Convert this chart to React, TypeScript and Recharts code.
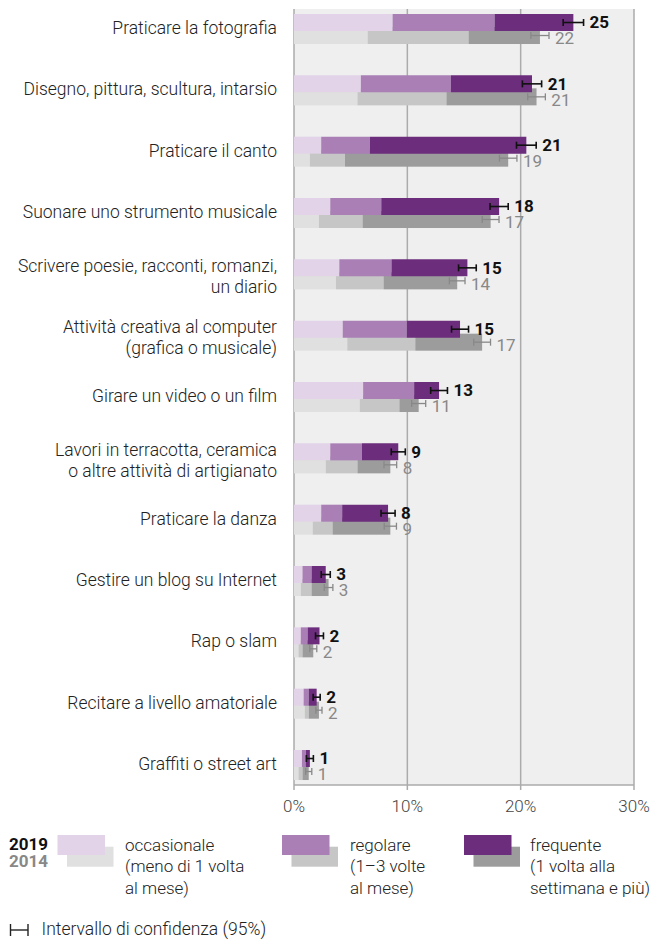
import React from "react";
import {
  BarChart,
  Bar,
  XAxis,
  YAxis,
  CartesianGrid,
  LabelList,
} from "recharts";

const categories = [
  "Praticare la fotografia",
  "Disegno, pittura, scultura, intarsio",
  "Praticare il canto",
  "Suonare uno strumento musicale",
  "Scrivere poesie, racconti, romanzi,\nun diario",
  "Attività creativa al computer\n(grafica o musicale)",
  "Girare un video o un film",
  "Lavori in terracotta, ceramica\no altre attività di artigianato",
  "Praticare la danza",
  "Gestire un blog su Internet",
  "Rap o slam",
  "Recitare a livello amatoriale",
  "Graffiti o street art",
];

// 2019
const occ2019 = [8.7, 5.9, 2.4, 3.2, 4.0, 4.3, 6.1, 3.2, 2.4, 0.75, 0.6, 0.85, 0.7];
const reg2019 = [9.0, 7.95, 4.3, 4.5, 4.6, 5.65, 4.5, 2.8, 1.85, 0.8, 0.6, 0.45, 0.35];
const fre2019 = [6.95, 7.15, 13.8, 10.4, 6.7, 4.7, 2.2, 3.2, 4.05, 1.25, 1.05, 0.7, 0.35];
const err2019 = [0.9, 0.85, 0.87, 0.8, 0.78, 0.75, 0.74, 0.62, 0.62, 0.4, 0.35, 0.31, 0.31];
const tot2019 = [25, 21, 21, 18, 15, 15, 13, 9, 8, 3, 2, 2, 1];

// 2014
const occ2014 = [6.5, 5.6, 1.4, 2.2, 3.7, 4.7, 5.8, 2.8, 1.65, 0.6, 0.4, 0.95, 0.4];
const reg2014 = [8.9, 7.85, 3.1, 3.85, 4.2, 6.0, 3.5, 2.8, 1.75, 0.95, 0.35, 0.35, 0.35];
const fre2014 = [6.3, 7.95, 14.4, 11.3, 6.5, 5.9, 1.7, 2.9, 5.1, 1.5, 0.95, 0.9, 0.55];
const err2014 = [0.8, 0.78, 0.77, 0.74, 0.69, 0.74, 0.62, 0.56, 0.54, 0.38, 0.31, 0.27, 0.27];
const tot2014 = [22, 21, 19, 17, 14, 17, 11, 8, 9, 3, 2, 2, 1];

const xTicks = [0, 10, 20, 30];

const C19 = ["#e2d3e8", "#a97fb5", "#6b2d7c"];
const C14 = ["#dfe0df", "#c5c6c5", "#9c9c9c"];
const GRID = "#ababab";
const FONT = "Roboto, 'Noto Sans', sans-serif";
const FS = 17.5;
const SHIFT = 13; // 2014 bar sits a bit lower, behind 2019

const data = categories.map((name, i) => ({
  idx: i,
  name,
  occ19: occ2019[i],
  reg19: reg2019[i],
  fre19: fre2019[i],
  occ14: occ2014[i],
  reg14: reg2014[i],
  fre14: fre2014[i],
}));

const shiftedBar = (props: any) => {
  const { x, y, width, height, fill } = props;
  if (width == null || height == null) return null;
  return <rect x={x} y={y + SHIFT} width={width} height={height} fill={fill} />;
};

function makeErrLabel(
  fre: number[],
  err: number[],
  totals: number[],
  is19: boolean
) {
  return (props: any) => {
    const vb = props.viewBox && props.viewBox.width != null ? props.viewBox : props;
    const { x, y, width, height } = vb;
    const i = props.value as number;
    if (x == null || i == null) return null;
    const yOff = is19 ? 0 : SHIFT;
    const cy = y + height / 2 + yOff;
    const end = x + width;
    const px = (width / fre[i]) * err[i];
    const color = is19 ? "#111" : "#888";
    const sw = is19 ? 1.6 : 1.3;
    return (
      <g>
        <line x1={end - px} x2={end + px} y1={cy} y2={cy} stroke={color} strokeWidth={sw} />
        <line x1={end - px} x2={end - px} y1={cy - 3.5} y2={cy + 3.5} stroke={color} strokeWidth={sw} />
        <line x1={end + px} x2={end + px} y1={cy - 3.5} y2={cy + 3.5} stroke={color} strokeWidth={sw} />
        <text
          x={end + px + 6}
          y={cy + (is19 ? 5.8 : 8.8)}
          fontSize={17}
          fontFamily={FONT}
          fontWeight={is19 ? 700 : 400}
          fill={is19 ? "#111" : "#888"}
        >
          {totals[i]}
        </text>
      </g>
    );
  };
}

const CategoryTick = (props: any) => {
  const { x, y, payload } = props;
  const lines = categories[payload.value].split("\n");
  const base = y + 6.3 + 5 - (lines.length - 1) * 7.5;
  return (
    <text
      x={x}
      y={base}
      textAnchor="end"
      fontSize={FS}
      fontFamily={FONT}
      fontWeight={300}
      fill="#222"
    >
      {lines.map((l, k) => (
        <tspan key={k} x={x} y={base + k * 21}>
          {l}
        </tspan>
      ))}
    </text>
  );
};

function Legend() {
  const groups = [
    { sx: 57.5, tx: 125, c19: C19[0], c14: C14[0], lines: ["occasionale", "(meno di 1 volta", "al mese)"] },
    { sx: 282, tx: 350, c19: C19[1], c14: C14[1], lines: ["regolare", "(1–3 volte", "al mese)"] },
    { sx: 464, tx: 530, c19: C19[2], c14: C14[2], lines: ["frequente", "(1 volta alla", "settimana e più)"] },
  ];
  return (
    <svg width={652} height={120} style={{ position: "absolute", left: 0, top: 820 }}>
      <text x={9} y={29.5} fontSize={17} fontFamily={FONT} fontWeight={700} fill="#111">2019</text>
      <text x={9} y={47} fontSize={17} fontFamily={FONT} fontWeight={700} fill="#888">2014</text>
      {groups.map((g, k) => (
        <g key={k}>
          <rect x={g.sx + 9.5} y={26.7} width={46.5} height={20} fill={g.c14} />
          <rect x={g.sx} y={15} width={47.5} height={20} fill={g.c19} />
          <text fontSize={17} fontFamily={FONT} fontWeight={300} fill="#222">
            {g.lines.map((l, j) => (
              <tspan key={j} x={g.tx} y={30.5 + j * 21.5}>{l}</tspan>
            ))}
          </text>
        </g>
      ))}
      <line x1={10.5} x2={10.5} y1={104} y2={116} stroke="#222" strokeWidth={1.4} />
      <line x1={28} x2={28} y1={104} y2={116} stroke="#222" strokeWidth={1.4} />
      <line x1={10.5} x2={28} y1={110} y2={110} stroke="#222" strokeWidth={1.4} />
      <text x={41.5} y={115} fontSize={FS} fontFamily={FONT} fontWeight={300} fill="#222">
        Intervallo di confidenza (95%)
      </text>
    </svg>
  );
}

export default function App() {
  return (
    <div style={{ position: "absolute", left: 0, top: 0, width: 652, height: 940, background: "#fff" }}>
      <BarChart
        width={652}
        height={815}
        data={data}
        layout="vertical"
        barSize={17}
        barGap={-17}
        margin={{ top: 9, right: 18, left: 0, bottom: 0 }}
      >
        <CartesianGrid horizontal={false} fill="#efefef" stroke={GRID} strokeWidth={1.5} />
        <XAxis
          xAxisId="top"
          orientation="top"
          type="number"
          domain={[0, 30]}
          ticks={xTicks}
          height={0}
          tick={false}
          tickLine={false}
          axisLine={{ stroke: GRID, strokeWidth: 1.5 }}
        />
        <XAxis
          type="number"
          domain={[0, 30]}
          ticks={xTicks}
          tickFormatter={(v) => `${v}%`}
          axisLine={{ stroke: GRID, strokeWidth: 1.5 }}
          tickLine={{ stroke: GRID, strokeWidth: 1.5 }}
          tickSize={5}
          tickMargin={10}
          tick={{ fill: "#444", fontSize: 17, fontFamily: FONT, fontWeight: 300 }}
          height={30}
        />
        <YAxis
          type="number"
          dataKey="idx"
          domain={[-0.223, 12.429]}
          allowDataOverflow
          ticks={categories.map((_, i) => i)}
          interval={0}
          width={294}
          axisLine={false}
          tickLine={false}
          tickSize={0}
          tickMargin={17}
          tick={<CategoryTick />}
        />

        {/* 2014 drawn first so 2019 covers it */}
        <Bar dataKey="occ14" stackId="b" fill={C14[0]} shape={shiftedBar} isAnimationActive={false} />
        <Bar dataKey="reg14" stackId="b" fill={C14[1]} shape={shiftedBar} isAnimationActive={false} />
        <Bar dataKey="fre14" stackId="b" fill={C14[2]} shape={shiftedBar} isAnimationActive={false}>
          <LabelList dataKey="idx" content={makeErrLabel(fre2014, err2014, tot2014, false)} />
        </Bar>

        <Bar dataKey="occ19" stackId="a" fill={C19[0]} isAnimationActive={false} />
        <Bar dataKey="reg19" stackId="a" fill={C19[1]} isAnimationActive={false} />
        <Bar dataKey="fre19" stackId="a" fill={C19[2]} isAnimationActive={false}>
          <LabelList dataKey="idx" content={makeErrLabel(fre2019, err2019, tot2019, true)} />
        </Bar>
      </BarChart>
      <Legend />
    </div>
  );
}
